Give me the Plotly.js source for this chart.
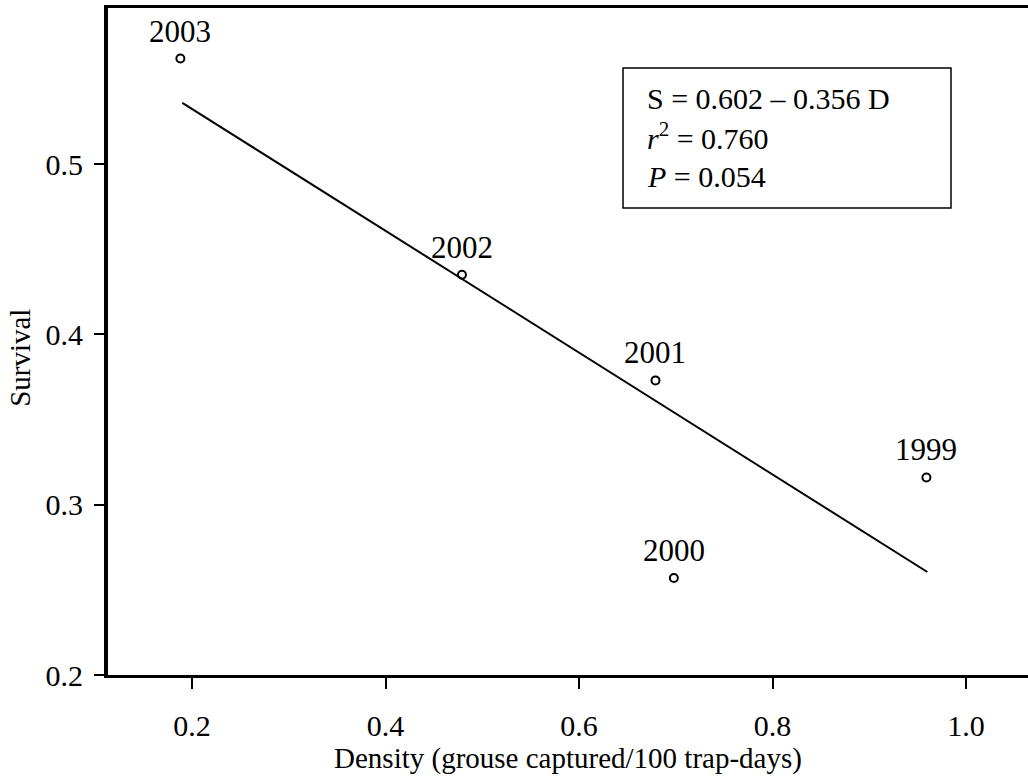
<!DOCTYPE html>
<html>
<head>
<meta charset="utf-8">
<script src="https://cdn.plot.ly/plotly-3.0.1.min.js"></script>
<style>html,body{margin:0;padding:0;background:#fff;}#chart{width:1028px;height:778px;}</style>
</head>
<body>
<div id="chart"></div>
<script>
// Data
const years = ["1999", "2000", "2001", "2002", "2003"];
const density = [0.959, 0.698, 0.679, 0.479, 0.188];
const survival = [0.316, 0.257, 0.373, 0.435, 0.562];
const fitDensity = [0.19, 0.96];
const fitSurvival = [0.536, 0.2605];
const xTicks = [0.2, 0.4, 0.6, 0.8, 1.0];
const xTickLabels = ["0.2", "0.4", "0.6", "0.8", "1.0"];
const yTicks = [0.2, 0.3, 0.4, 0.5];
const yTickLabels = ["0.2", "0.3", "0.4", "0.5"];
const statLines = ["S = 0.602 – 0.356 D", "<i>r</i><sup>2</sup> = 0.760", "<i>P</i> = 0.054"];
const yTitle = "Survival";
const xTitle = "Density (grouse captured/100 trap-days)";

const FONT = "'Liberation Serif', 'Times New Roman', serif";

const traces = [
  {
    x: fitDensity, y: fitSurvival, mode: "lines", type: "scatter",
    line: {color: "#000", width: 2}, hoverinfo: "skip"
  },
  {
    x: density, y: survival, mode: "markers", type: "scatter",
    marker: {symbol: "circle-open", size: 8, color: "#000", line: {width: 2, color: "#000"}}
  }
];

const annotations = years.map((yr, i) => ({
  x: density[i], y: survival[i], xref: "x", yref: "y",
  text: yr, showarrow: false, xanchor: "center", yanchor: "bottom", yshift: 8,
  font: {family: FONT, size: 31, color: "#000"}
}));

const lineY = [0.865, 0.808, 0.747];
statLines.forEach((t, i) => {
  annotations.push({
    x: 0.5837, y: lineY[i], xref: "paper", yref: "paper",
    text: t, showarrow: false, xanchor: "left", yanchor: "middle",
    font: {family: FONT, size: 30, color: "#000"}
  });
});

annotations.push({
  x: -0.096, y: 0.475, xref: "paper", yref: "paper",
  text: yTitle, showarrow: false, textangle: -90, xanchor: "center", yanchor: "middle",
  font: {family: FONT, size: 29, color: "#000"}
});

const layout = {
  width: 1028, height: 778,
  margin: {l: 108, r: 0, t: 8, b: 103},
  paper_bgcolor: "#fff", plot_bgcolor: "#fff",
  showlegend: false,
  font: {family: FONT, color: "#000"},
  xaxis: {
    range: [0.1132, 1.064], tickvals: xTicks, ticktext: xTickLabels,
    showgrid: false, zeroline: false,
    showline: true, linecolor: "#000", linewidth: 3, mirror: true,
    ticks: "outside", ticklen: 11, tickwidth: 2, tickcolor: "#000",
    ticklabelstandoff: 11,
    tickfont: {family: FONT, size: 30, color: "#000"},
    title: {text: xTitle, font: {family: FONT, size: 29, color: "#000"}, standoff: 3}
  },
  yaxis: {
    range: [0.2, 0.5917], tickvals: yTicks, ticktext: yTickLabels,
    showgrid: false, zeroline: false,
    showline: true, linecolor: "#000", linewidth: 4, mirror: false,
    ticks: "outside", ticklen: 10, tickwidth: 2, tickcolor: "#000",
    ticklabelstandoff: 5,
    tickfont: {family: FONT, size: 30, color: "#000"}
  },
  shapes: [{
    type: "rect", xref: "paper", yref: "paper",
    x0: 0.5598, x1: 0.9163, y0: 0.7001, y1: 0.91,
    line: {color: "#000", width: 1.5}, fillcolor: "rgba(0,0,0,0)"
  }],
  annotations: annotations
};

Plotly.newPlot("chart", traces, layout, {displayModeBar: false, staticPlot: true});
</script>
</body>
</html>
